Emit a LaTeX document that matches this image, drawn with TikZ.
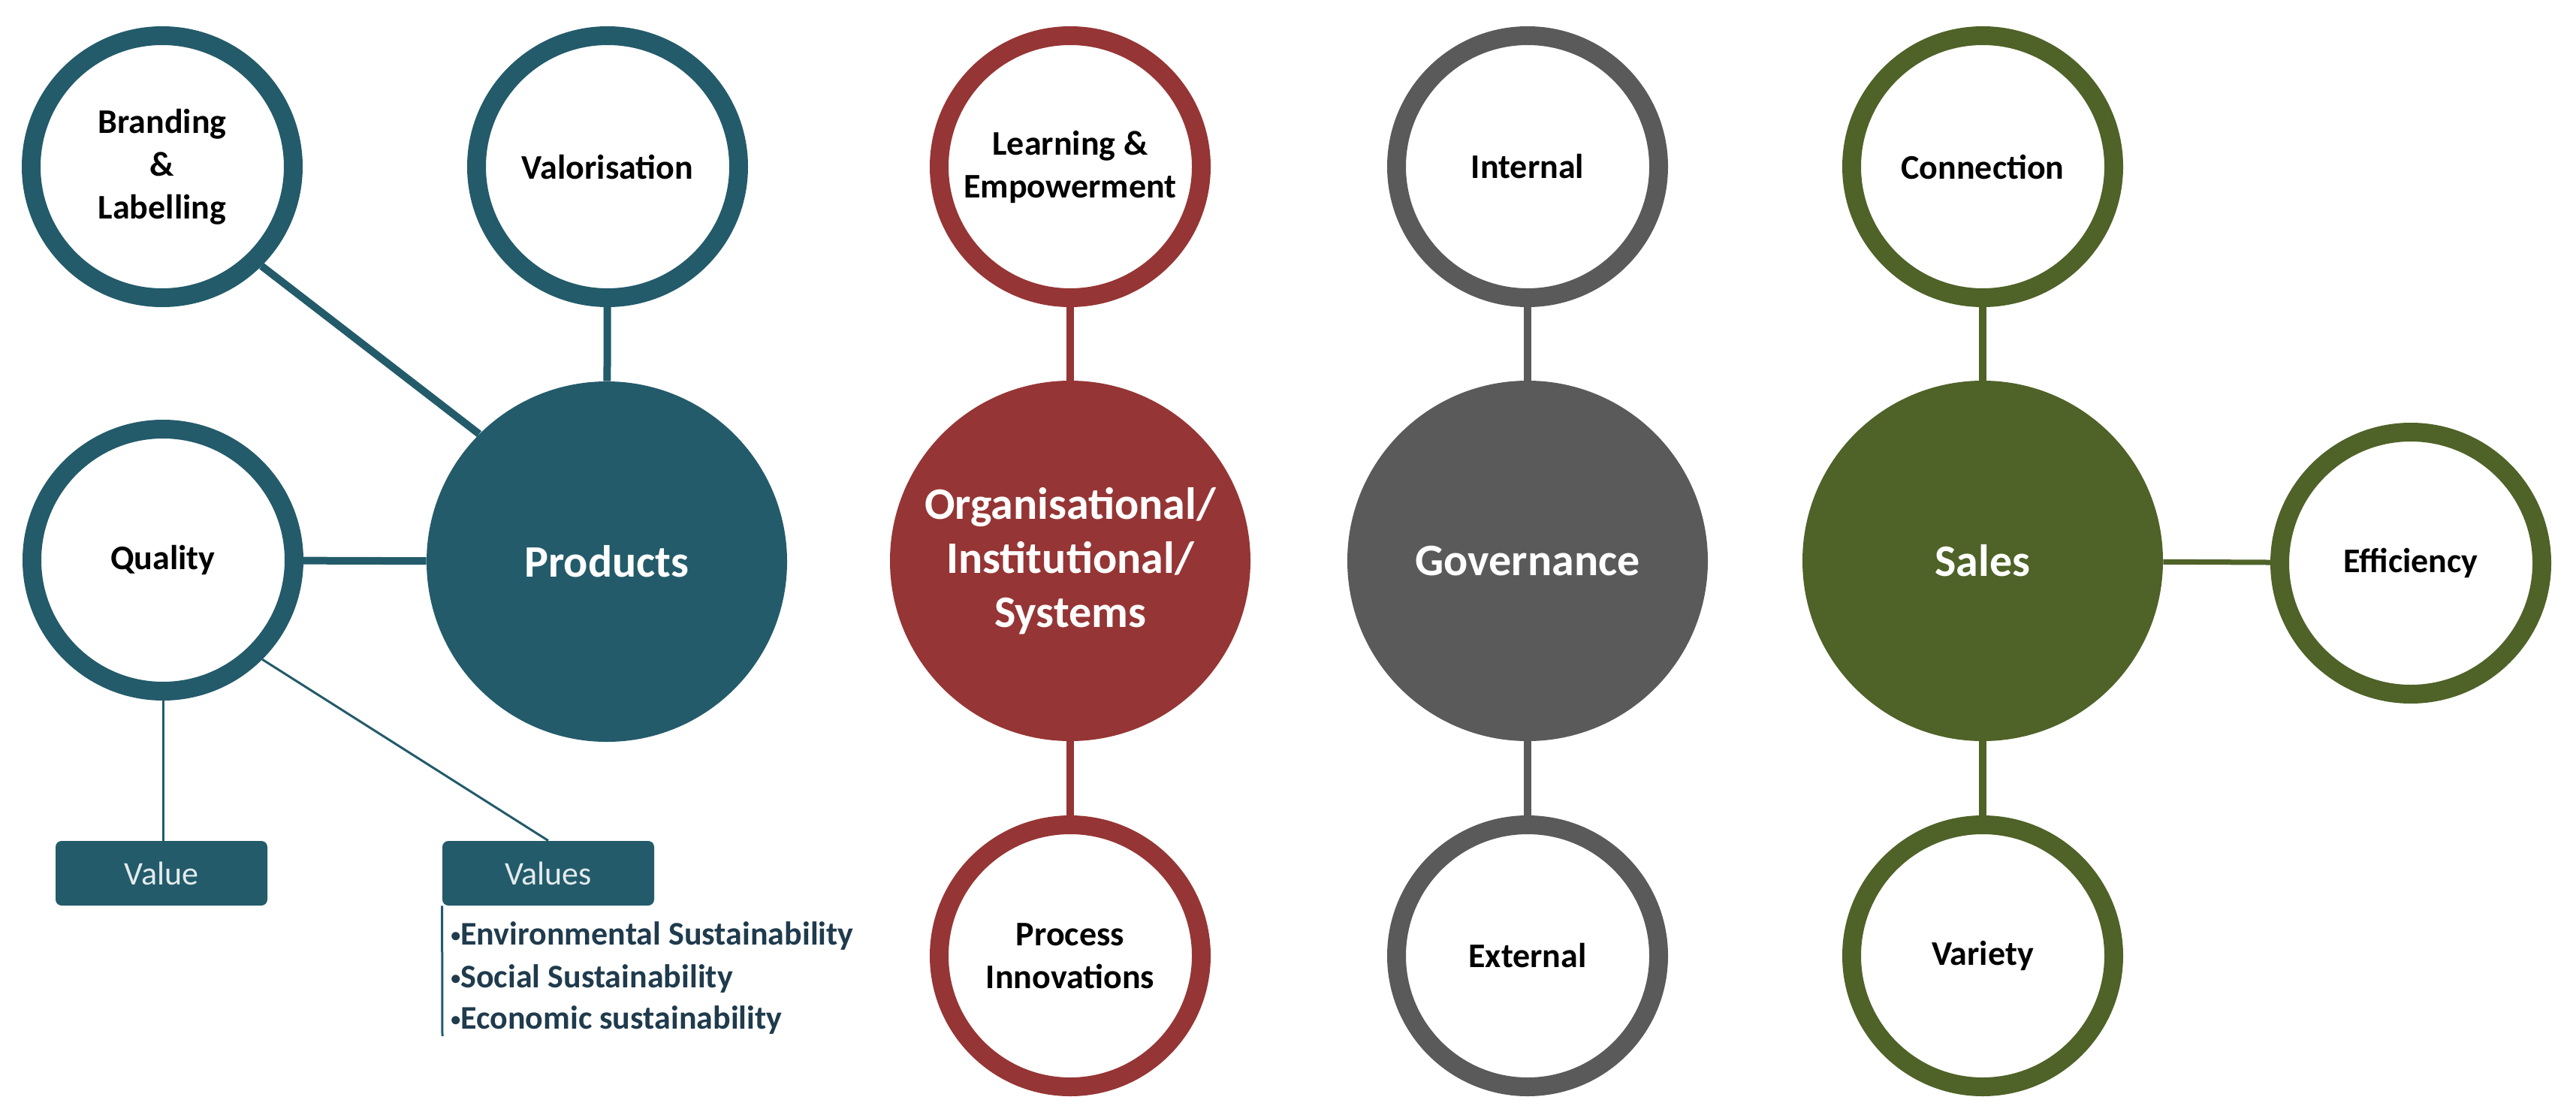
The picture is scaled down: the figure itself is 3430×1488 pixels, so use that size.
\documentclass[tikz,border=0pt]{standalone}
\usepackage{fontspec}
\setmainfont{Carlito}
\definecolor{prodcol}{HTML}{235B6A}
\definecolor{orgcol}{HTML}{963535}
\definecolor{govcol}{HTML}{5A5A5A}
\definecolor{salcol}{HTML}{4F6228}
\definecolor{bulcol}{HTML}{1F3B4D}
\newcommand{\smallbul}{{\fontsize{13}{13}\selectfont\raisebox{0.18em}{\textbullet}}}
\begin{document}
\begin{tikzpicture}[x=0.5pt,y=-0.5pt,
  ring/.style={circle, draw=#1, line width=12.5pt, fill=white, minimum size=174.5pt, inner sep=0pt, align=center, font=\bfseries\fontsize{23}{28.5}\selectfont, text=black},
  hub/.style={circle, fill=#1, minimum size=240pt, inner sep=0pt, align=center, font=\bfseries\fontsize{30}{36}\selectfont, text=white},
  link/.style={draw=#1, line width=5pt},
  fineline/.style={draw=prodcol, line width=1.5pt},
  valbox/.style={rectangle, rounded corners=4pt, fill=prodcol, minimum width=141pt, minimum height=43pt, inner sep=0pt, text=white!88!prodcol, font=\fontsize{22}{26}\selectfont},
  bul/.style={anchor=west, text=bulcol, font=\bfseries\fontsize{22}{26}\selectfont, inner sep=0pt}]
\useasboundingbox (0,0) rectangle (3430,1488);
% Products cluster
\node[hub=prodcol] (prod) at (808,748) {Products};
\node[ring=prodcol] (brand) at (216,222) {Branding\\\&\\Labelling};
\node[ring=prodcol] (valor) at (809,222) {Valorisation};
\node[ring=prodcol] (qual) at (217,746) {Quality};
\node[valbox] (value) at (215,1163) {Value};
\node[valbox] (values) at (730,1163) {Values};
\coordinate (valend) at (589,1380);
\node[bul] (b1) at (600,1247) {\smallbul Environmental Sustainability};
\node[bul] (b2) at (600,1304) {\smallbul Social Sustainability};
\node[bul] (b3) at (600,1359) {\smallbul Economic sustainability};
\draw[link=prodcol] (brand.-45) -- (prod.135);
\draw[link=prodcol] (valor) -- (prod);
\draw[link=prodcol] (qual) -- (prod);
\draw[fineline] (qual.south) -- (qual.south |- value.north);
\draw[fineline] (qual.-45) -- (values.north);
\draw[fineline] (values.south west) -- (valend);
% Organisational cluster
\node[hub=orgcol] (org) at (1425,747) {Organisational/\\Institutional/\\Systems};
\node[ring=orgcol] (learn) at (1425,222) {Learning \&\\Empowerment};
\node[ring=orgcol] (proc) at (1425,1273) {Process\\Innovations};
\draw[link=orgcol] (learn) -- (org);
\draw[link=orgcol] (org) -- (proc);
% Governance cluster
\node[hub=govcol] (gov) at (2034,747) {Governance};
\node[ring=govcol] (int) at (2034,222) {Internal};
\node[ring=govcol] (ext) at (2034,1273) {External};
\draw[link=govcol] (int) -- (gov);
\draw[link=govcol] (gov) -- (ext);
% Sales cluster
\node[hub=salcol] (sales) at (2640,747) {Sales};
\node[ring=salcol] (conn) at (2640,222) {Connection};
\node[ring=salcol] (var) at (2640,1273) {Variety};
\node[ring=salcol] (eff) at (3210,750) {Efficiency};
\draw[link=salcol] (conn) -- (sales);
\draw[link=salcol] (sales) -- (var);
\draw[link=salcol, line width=3.5pt] (sales) -- (eff);
\end{tikzpicture}
\end{document}
